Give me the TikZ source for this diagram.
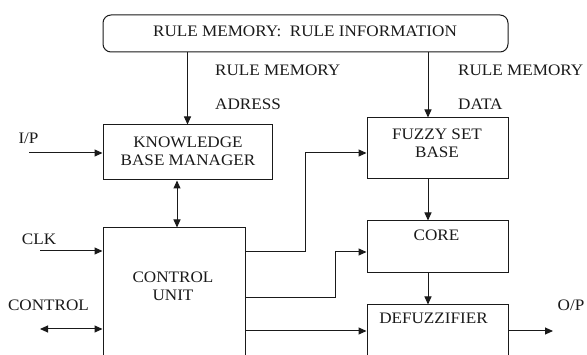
\documentclass[tikz,border=0pt]{standalone}
\usepackage{fontspec}
\setmainfont{Liberation Serif}[FakeStretch=1.07]
\usetikzlibrary{calc,arrows.meta}
\definecolor{ink}{HTML}{1A1A1A}
\definecolor{bg}{HTML}{FFFFFF}
\tikzset{
  blk/.style={draw=ink, line width=1pt, rectangle, inner sep=0pt},
  wire/.style={draw=ink, line width=1pt},
  arr/.style={wire, -{Triangle[length=8pt,width=7pt]}},
  darr/.style={wire, {Triangle[length=8pt,width=7pt]}-{Triangle[length=8pt,width=7pt]}},
  lab/.style={text=ink, font=\fontsize{16}{18}\selectfont, inner sep=0pt, text height=10.6pt, text depth=0pt},
  boxtxt/.style={text=ink, font=\fontsize{16}{18}\selectfont, inner sep=0pt, align=center},
}
\begin{document}
\begin{tikzpicture}[x=1pt,y=-1pt]
  \useasboundingbox[fill=bg] (0,0) rectangle (587,355);
  \clip (0,0) rectangle (587,355);
  % blocks
  \node[blk, rounded corners=8pt, minimum width=405pt, minimum height=37pt] (mem) at (305.5,33.5) {};
  \node[lab] (memtxt) at (305,31) {RULE MEMORY:\ \ RULE INFORMATION};
  \node[blk, minimum width=169pt, minimum height=55pt] (kbm) at (187.5,152.5) {};
  \node[boxtxt] (kbmtxt) at (188,151) {KNOWLEDGE\\BASE MANAGER};
  \node[blk, minimum width=141pt, minimum height=61pt] (fsb) at (437.5,148.5) {};
  \node[boxtxt] (fsbtxt) at (437,143) {FUZZY SET\\BASE};
  \node[blk, minimum width=141pt, minimum height=52pt] (core) at (437.5,247) {};
  \node[lab] (coretxt) at (436.5,235) {CORE};
  \node[blk, minimum width=141pt, minimum height=80pt] (defz) at (437.5,345) {};
  \node[lab] (defztxt) at (433.5,318.5) {DEFUZZIFIER};
  \node[blk, minimum width=142pt, minimum height=150pt] (cu) at (174,303) {};
  \node[boxtxt] (cutxt) at (173,286) {CONTROL\\UNIT};
  % bus labels
  \node[lab, anchor=west] (adrtop) at (215,70.5) {RULE MEMORY};
  \node[lab, anchor=west] (adrbot) at (215,104.5) {ADRESS};
  \node[lab, anchor=west] (dattop) at (458,70.5) {RULE MEMORY};
  \node[lab, anchor=west] (datbot) at (458,104.5) {DATA};
  % pins
  \node[lab] (iplab) at (28.5,138) {I/P};
  \node[lab] (clklab) at (39,239) {CLK};
  \node[lab] (ctllab) at (48.5,305.5) {CONTROL};
  \node[lab] (oplab) at (571,305) {O/P};
  % memory buses
  \coordinate (datax) at (428,0);
  \coordinate (busx) at (177,0);
  \draw[arr] (kbm.north |- mem.south) -- (kbm.north);
  \draw[arr] (mem.south -| datax) -- (fsb.north -| datax);
  \draw[arr] (fsb.south -| datax) -- (core.north -| datax);
  \draw[arr] (core.south -| datax) -- (defz.north -| datax);
  \draw[darr] (kbm.south -| busx) -- (cu.north -| busx);
  % inputs
  \coordinate (ip) at (29,153);
  \coordinate (clk) at (40,251);
  \coordinate (ctl) at (40,329);
  \draw[arr] (ip) -- (kbm.west |- ip);
  \draw[arr] (clk) -- (cu.west |- clk);
  \draw[darr] (ctl) -- (cu.west |- ctl);
  % control lines
  \coordinate (c1) at (305,252);
  \coordinate (f1) at (305,153);
  \coordinate (c2) at (335,298);
  \coordinate (k2) at (335,252);
  \coordinate (c3) at (0,331);
  \coordinate (op) at (553,331);
  \draw[arr] (cu.east |- c1) -- (c1) |- (fsb.west |- f1);
  \draw[arr] (cu.east |- c2) -- (c2) |- (core.west |- k2);
  \draw[arr] (cu.east |- c3) -- (defz.west |- c3);
  \draw[arr] (defz.east |- c3) -- (op);
\end{tikzpicture}
\end{document}
